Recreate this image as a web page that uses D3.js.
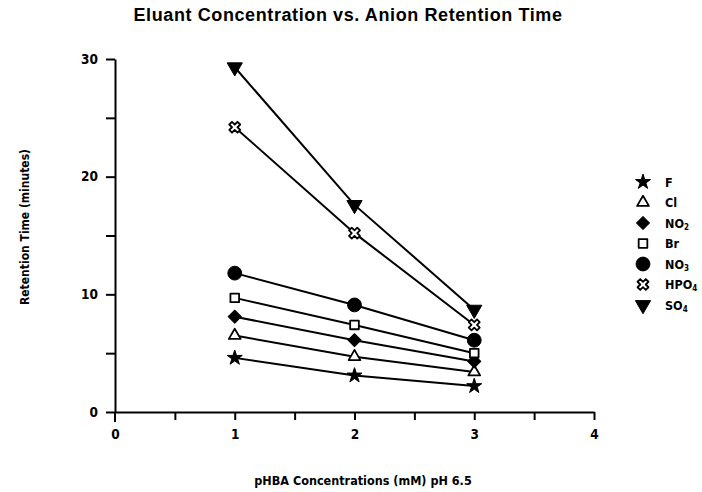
<!DOCTYPE html>
<html>
<head>
<meta charset="utf-8">
<script src="https://cdn.jsdelivr.net/npm/d3@7"></script>
<style>
  body { margin: 0; background: #fff; }
  svg { display: block; }
  .cond { font-family: "Liberation Sans Narrow", "DejaVu Sans Condensed", "Roboto Condensed", sans-serif; font-weight: bold; font-stretch: condensed; }
</style>
</head>
<body>
<div id="vis"></div>
<script>
// pHBA concentration (mM)
let conc = [1, 2, 3]

let anions = ["F", "Cl", "NO2", "Br", "NO3", "HPO4", "SO4"]

// retention time (minutes) per anion
let F    = [4.6, 3.1, 2.2]
let Cl   = [6.5, 4.7, 3.4]
let NO2  = [8.1, 6.1, 4.3]
let Br   = [9.7, 7.4, 5.0]
let NO3  = [11.8, 9.1, 6.1]
let HPO4 = [24.2, 15.2, 7.4]
let SO4  = [29.3, 17.6, 8.7]

let xTicks = [0, 0.5, 1, 1.5, 2, 2.5, 3, 3.5, 4]
let yTicks = [0, 5, 10, 15, 20, 25, 30]

let series = [F, Cl, NO2, Br, NO3, HPO4, SO4].map((v, i) => ({
    name: anions[i],
    values: v.map((y, j) => ({x: conc[j], y: y}))
}))

config = {}
config.width = 702
config.height = 492

let x = d3.scaleLinear().domain([0, 4]).range([115, 594])
let y = d3.scaleLinear().domain([0, 30]).range([412, 59])

let svg = d3.select("#vis")
    .append("svg")
    .attr("width", config.width)
    .attr("height", config.height)

svg.append("text")
    .attr("x", 348)
    .attr("y", 21)
    .attr("text-anchor", "middle")
    .attr("font-family", "Liberation Sans, Arial, sans-serif")
    .attr("font-weight", "bold")
    .attr("font-size", 18)
    .attr("letter-spacing", 0.6)
    .text("Eluant Concentration vs. Anion Retention Time")

// axes
let xAxis = svg.append("g")
    .attr("class", "cond")
    .attr("transform", `translate(0,${y(0)})`)
    .call(d3.axisBottom(x)
        .tickValues(xTicks)
        .tickSize(8)
        .tickSizeOuter(0)
        .tickFormat(d => Number.isInteger(d) ? d : ""))

let yAxis = svg.append("g")
    .attr("class", "cond")
    .attr("transform", `translate(${x(0)},0)`)
    .call(d3.axisLeft(y)
        .tickValues(yTicks)
        .tickSize(9)
        .tickSizeOuter(0)
        .tickFormat(d => d % 10 == 0 ? d : ""))

;[xAxis, yAxis].forEach(a => {
    a.selectAll("path, line").attr("stroke", "#000").attr("stroke-width", 2)
    a.selectAll("text").attr("font-size", 13.5).attr("fill", "#000")
})
xAxis.selectAll("text").attr("dy", "1.2em")
yAxis.selectAll("text").attr("x", -17)
xAxis.select(".tick line").remove()
// y axis runs a little below the x axis
yAxis.append("line")
    .attr("y1", y(0)).attr("y2", y(0) + 10)
    .attr("stroke", "#000").attr("stroke-width", 2)

svg.append("text")
    .attr("class", "cond")
    .attr("transform", `translate(29,227) rotate(-90)`)
    .attr("text-anchor", "middle")
    .attr("font-size", 12)
    .text("Retention Time (minutes)")

svg.append("text")
    .attr("class", "cond")
    .attr("x", 363)
    .attr("y", 485)
    .attr("text-anchor", "middle")
    .attr("font-size", 12.5)
    .text("pHBA Concentrations (mM) pH 6.5")

// markers
let shapes = {
    F:    {type: d3.symbolStar, size: 70, fill: "#000", rot: 0},
    Cl:   {type: d3.symbolTriangle, size: 60, fill: "#fff", rot: 0},
    NO2:  {type: d3.symbolSquare, size: 85, fill: "#000", rot: 45},
    Br:   {type: d3.symbolSquare, size: 75, fill: "#fff", rot: 0},
    NO3:  {type: d3.symbolCircle, size: 150, fill: "#000", rot: 0},
    HPO4: {type: d3.symbolCross, size: 75, fill: "#fff", rot: 45},
    SO4:  {type: d3.symbolTriangle, size: 100, fill: "#000", rot: 180}
}

function marker(g, name) {
    let s = shapes[name]
    g.append("path")
        .attr("d", d3.symbol().type(s.type).size(s.size)())
        .attr("transform", `rotate(${s.rot})`)
        .attr("fill", s.fill)
        .attr("stroke", "#000")
        .attr("stroke-width", s.fill == "#fff" ? 1.8 : 1)
        .attr("stroke-linejoin", "round")
}

let line = d3.line().x(d => x(d.x)).y(d => y(d.y))

svg.append("g")
    .selectAll("path")
    .data(series)
    .join("path")
    .attr("d", d => line(d.values))
    .attr("fill", "none")
    .attr("stroke", "#000")
    .attr("stroke-width", 2)

series.forEach(s => {
    svg.append("g")
        .selectAll("g")
        .data(s.values)
        .join("g")
        .attr("transform", d => `translate(${x(d.x)},${y(d.y)})`)
        .each(function () { marker(d3.select(this), s.name) })
})

// legend
let legend = svg.append("g")
    .selectAll("g")
    .data(anions)
    .join("g")
    .attr("transform", (d, i) => `translate(643,${182 + i * 20.5})`)

legend.each(function (d) { marker(d3.select(this), d) })

let label = legend.append("text")
    .attr("class", "cond")
    .attr("x", 22)
    .attr("dy", "0.36em")
    .attr("font-size", 12.5)

label.each(function (d) {
    let t = d3.select(this)
    let m = d.match(/^([A-Za-z]+?)(\d*)$/)
    t.append("tspan").text(m[1])
    if (m[2]) t.append("tspan").attr("font-size", 8).attr("dy", "0.25em").text(m[2])
})
</script>
</body>
</html>
